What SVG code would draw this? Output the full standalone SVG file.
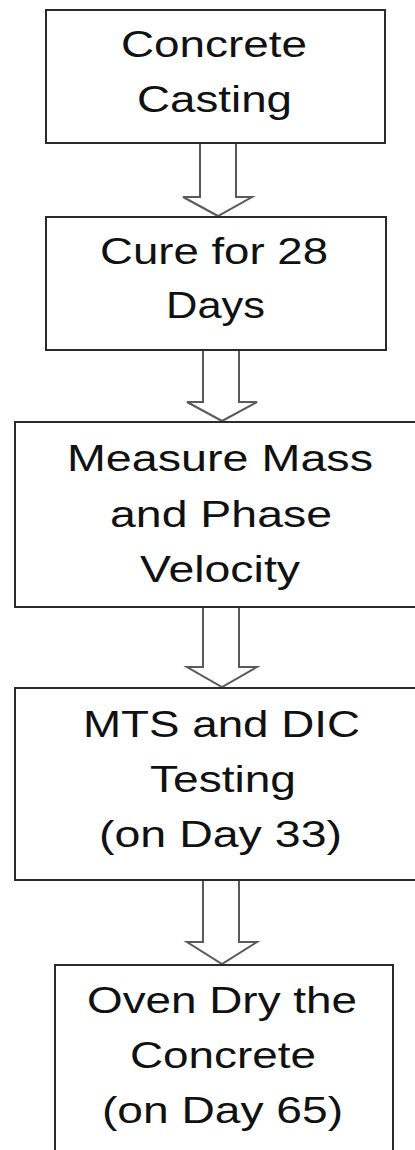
<svg xmlns="http://www.w3.org/2000/svg" width="415" height="1150" viewBox="0 0 415 1150">
<style>
.box{fill:#fff;stroke:#2b2b2b;stroke-width:2}
.arr{fill:#fff;stroke:#5a5a5a;stroke-width:2;stroke-linejoin:miter}
.t{font-family:"Liberation Sans",Arial,sans-serif;font-size:36px;fill:#111;text-anchor:middle}
</style>
<rect x="0" y="0" width="415" height="1150" fill="#fff"/>
<g id="connectors">
<path class="arr" d="M200,143 L236,143 L236,197 L252,197 L218,216 L183,197 L200,197 Z"/>
<path class="arr" d="M203,350 L239,350 L239,402 L257,402 L222,421 L187,402 L203,402 Z"/>
<path class="arr" d="M203,607 L239,607 L239,667 L257,667 L222,687 L187,667 L203,667 Z"/>
<path class="arr" d="M203,880 L239,880 L239,942 L257,942 L222,964 L187,942 L203,942 Z"/>
</g>
<g id="n1">
<rect class="box" x="46" y="10" width="339" height="133"/>
<text class="t" x="214" y="57" textLength="186" lengthAdjust="spacingAndGlyphs">Concrete</text>
<text class="t" x="214.5" y="112" textLength="155" lengthAdjust="spacingAndGlyphs">Casting</text>
</g>
<g id="n2">
<rect class="box" x="46" y="217" width="340" height="133"/>
<text class="t" x="214" y="264" textLength="228" lengthAdjust="spacingAndGlyphs">Cure for 28</text>
<text class="t" x="215.5" y="318" textLength="99" lengthAdjust="spacingAndGlyphs">Days</text>
</g>
<g id="n3">
<rect class="box" x="15" y="422" width="410" height="185"/>
<text class="t" x="220" y="471" textLength="306" lengthAdjust="spacingAndGlyphs">Measure Mass</text>
<text class="t" x="221" y="527" textLength="222" lengthAdjust="spacingAndGlyphs">and Phase</text>
<text class="t" x="220" y="582" textLength="160" lengthAdjust="spacingAndGlyphs">Velocity</text>
</g>
<g id="n4">
<rect class="box" x="15" y="688" width="410" height="192"/>
<text class="t" x="221.5" y="737" textLength="277" lengthAdjust="spacingAndGlyphs">MTS and DIC</text>
<text class="t" x="223" y="792" textLength="146" lengthAdjust="spacingAndGlyphs">Testing</text>
<text class="t" x="220.5" y="847" textLength="243" lengthAdjust="spacingAndGlyphs">(on Day 33)</text>
</g>
<g id="n5">
<rect class="box" x="55" y="965" width="338" height="200"/>
<text class="t" x="222" y="1013" textLength="270" lengthAdjust="spacingAndGlyphs">Oven Dry the</text>
<text class="t" x="223" y="1068" textLength="186" lengthAdjust="spacingAndGlyphs">Concrete</text>
<text class="t" x="222.5" y="1123" textLength="241" lengthAdjust="spacingAndGlyphs">(on Day 65)</text>
</g>
</svg>
